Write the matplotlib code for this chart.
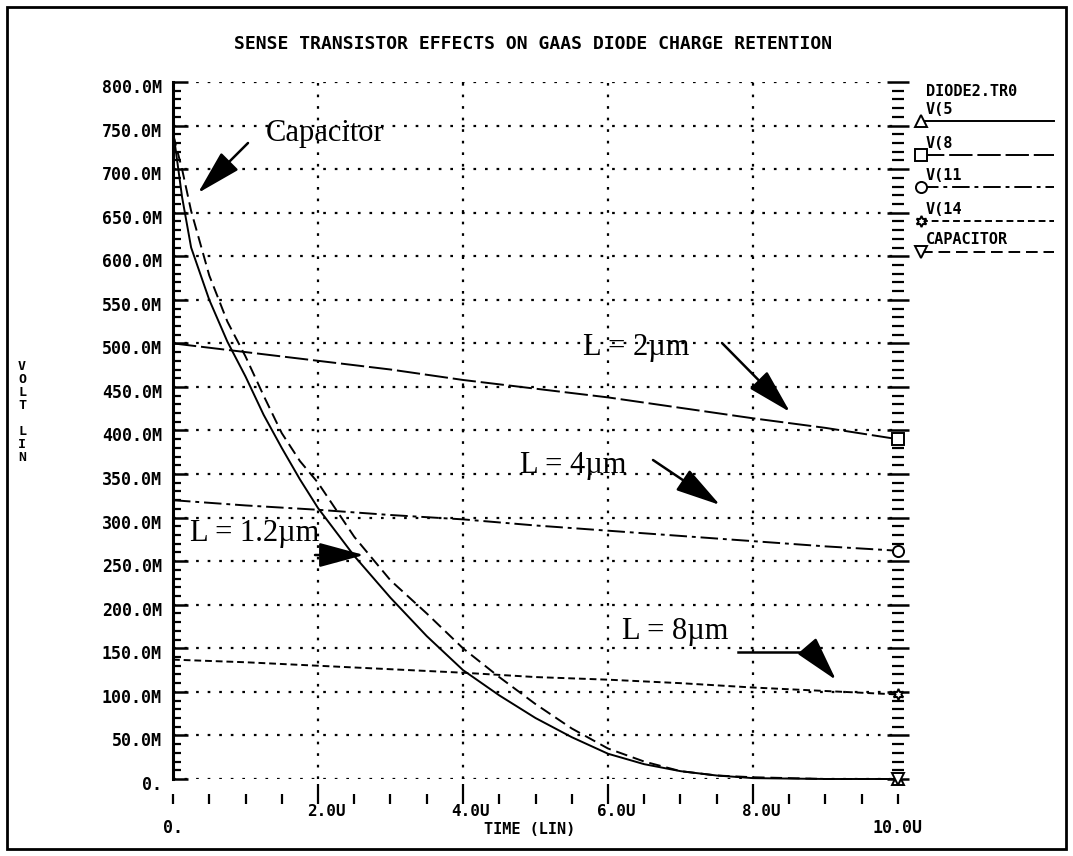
import matplotlib
matplotlib.use('Agg')
import matplotlib.pyplot as plt
from matplotlib.lines import Line2D
from matplotlib.patches import Rectangle
from matplotlib.ticker import MultipleLocator
from matplotlib.transforms import ScaledTranslation

# ---------------- data ----------------
title = "SENSE TRANSISTOR EFFECTS ON GAAS DIODE CHARGE RETENTION"
file_label = "DIODE2.TR0"
series_names = ["V(5", "V(8", "V(11", "V(14", "CAPACITOR"]

# fast decaying curves (time in us, volts in mV)
t_fast = [0, 0.125, 0.25, 0.5, 0.75, 1.0, 1.25, 1.5, 1.75, 2.0, 2.5, 3.0, 3.5,
          4.0, 4.5, 5.0, 5.5, 6.0, 6.5, 7.0, 7.5, 8.0, 9.0, 10.0]
v5 = [745, 668, 610, 550, 502, 462, 418, 380, 344, 311, 256, 208, 164,
      125, 96, 70, 48, 29, 17, 9, 4, 1, 0, 0]
v_cap = [740, 700, 652, 578, 525, 485, 440, 397, 365, 340, 278, 228, 190,
         150, 117, 86, 58, 35, 20, 9, 4, 2, 0, 0]

# slow decaying curves
t_slow = [0, 1, 2, 3, 4, 5, 6, 7, 8, 9, 10]
v8 = [500, 490, 480, 470, 458, 448, 438, 426, 414, 403, 390]
v11 = [320, 314, 309, 303, 298, 291, 285, 279, 273, 267, 262]
v14 = [137, 134, 130, 126, 122, 117, 114, 110, 105, 101, 97]

y_ticks = [0, 50, 100, 150, 200, 250, 300, 350, 400, 450, 500, 550, 600,
           650, 700, 750, 800]
y_ticklabels = ["0.", "50.0M", "100.0M", "150.0M", "200.0M", "250.0M",
                "300.0M", "350.0M", "400.0M", "450.0M", "500.0M", "550.0M",
                "600.0M", "650.0M", "700.0M", "750.0M", "800.0M"]
x_ticks = [2, 4, 6, 8]
x_ticklabels = ["2.0U", "4.0U", "6.0U", "8.0U"]
x_end_labels = [(0, "0."), (10, "10.0U")]

annotations = [
    ("Capacitor", (266, 134), (248, 143), (198, 193)),
    ("L = 1.2\u00b5m", (190, 533), (315, 555), (364, 555)),
    ("L = 2\u00b5m", (583, 348), (722, 343), (790, 412)),
    ("L = 4\u00b5m", (520, 465), (653, 460), (720, 505)),
    ("L = 8\u00b5m", (622, 632), (812, 652), (836, 680)),
]

# ---------------- layout ----------------
W, H = 1073, 856
fig = plt.figure(figsize=(W / 100, H / 100), dpi=100)
X0, X1 = 173, 898
Y0, Y1 = 779, 82
ax = fig.add_axes([X0 / W, 1 - Y0 / H, (X1 - X0) / W, (Y0 - Y1) / H])
ax.set_xlim(0, 10)
ax.set_ylim(0, 800)

MONO = dict(family="DejaVu Sans Mono", weight="bold")
SERIF = dict(family=["Liberation Serif", "DejaVu Serif"])
LBL = 12
LEG = 11

def P(x, y):
    """top-left pixel -> figure pixels"""
    return (x, H - y)

# curves
lw = 1.4
styles = [
    dict(ls="-", marker="^"),
    dict(ls=(0, (12, 2.5)), marker="s"),
    dict(ls=(0, (9, 2.5, 2, 2.5)), marker="o"),
    dict(ls=(0, (3.5, 2)), marker=(6, 1, 0)),
    dict(ls=(0, (6, 3)), marker="v"),
]
data = [(t_fast, v5), (t_slow, v8), (t_slow, v11), (t_slow, v14), (t_fast, v_cap)]
for (tx, vy), st in zip(data, styles):
    ax.plot(tx, vy, color="black", lw=lw, ls=st["ls"], marker=st["marker"],
            markevery=[len(tx) - 1], ms=8, mfc="white", mec="black", mew=1.4,
            clip_on=False, zorder=3)

# ticks / grid
ax.set_yticks(y_ticks)
ax.yaxis.set_minor_locator(MultipleLocator(10))
ax.set_xticks(x_ticks)
ax.xaxis.set_minor_locator(MultipleLocator(0.5))
ax.grid(True, which="major", color="black", ls=(0, (1.2, 4.0)), lw=1.6)

for s in ["top", "right"]:
    ax.spines[s].set_visible(False)
ax.spines["left"].set_linewidth(2.2)
ax.spines["bottom"].set_position(("outward", 11))
ax.spines["bottom"].set_visible(False)

ax.tick_params(axis="y", which="major", direction="in", length=11, width=1.8,
               pad=8, left=True, right=False)
ax.tick_params(axis="y", which="minor", direction="in", length=6, width=1.6,
               left=True, right=False)
ax.tick_params(axis="x", which="major", direction="inout", length=14,
               width=1.6, pad=0)
ax.tick_params(axis="x", which="minor", direction="out", length=7, width=1.6)

ax.set_yticklabels(y_ticklabels)
ax.set_xticklabels(x_ticklabels)

# right-hand tick column
sec = ax.secondary_yaxis("right")
sec.set_yticks(y_ticks)
sec.set_yticklabels([])
sec.yaxis.set_minor_locator(MultipleLocator(10))
sec.spines["right"].set_visible(False)
sec.tick_params(which="major", direction="inout", length=16, width=1.8)
sec.tick_params(which="minor", direction="inout", length=8, width=1.6)

# end labels on the time axis
for xv, txt in x_end_labels:
    t = ax.text(xv, 0, txt, transform=ax.get_xaxis_transform(),
                ha="center", va="center", fontsize=LBL, **MONO)
    t.set_transform(t.get_transform() +
                    ScaledTranslation(0, -(828 - 779) / 100, fig.dpi_scale_trans))

fig.text(530 / W, 1 - 830 / H, "TIME (LIN)", ha="center", va="center",
         fontsize=11, **MONO)
fig.text(22 / W, 1 - 412 / H, "V\nO\nL\nT\n\nL\nI\nN", ha="center",
         va="center", fontsize=9.5, linespacing=1.0, **MONO)
fig.text(533 / W, 1 - 44 / H, title, ha="center", va="center",
         fontsize=13, **MONO)

# legend (manual, plotter style)
fig.text(926 / W, 1 - 91 / H, file_label, ha="left", va="center",
         fontsize=LEG, **MONO)
leg_y = [121, 155, 187, 221, 252]
for name, st, ly in zip(series_names, styles, leg_y):
    fig.text(926 / W, 1 - (ly - 12) / H, name, ha="left", va="center",
             fontsize=LEG, **MONO)
    ln = Line2D([921 / W, 1054 / W], [1 - ly / H, 1 - ly / H],
                transform=fig.transFigure, color="black", lw=lw, ls=st["ls"],
                marker=st["marker"], markevery=[0], ms=8, mfc="white",
                mec="black", mew=1.4)
    fig.lines.append(ln)

# annotations with arrows
for txt, tpos, a0, a1 in annotations:
    fig.text(tpos[0] / W, 1 - tpos[1] / H, txt, ha="left", va="center",
             fontsize=22, **SERIF)
    ax.annotate("", xy=P(*a1), xycoords="figure pixels",
                xytext=P(*a0), textcoords="figure pixels",
                arrowprops=dict(arrowstyle="-|>,head_length=1.4,head_width=0.38",
                                color="black", lw=1.8, mutation_scale=20,
                                shrinkA=0, shrinkB=0))
# shaft of the bent L = 8um arrow
fig.lines.append(Line2D([738 / W, 812 / W], [1 - 652 / H, 1 - 652 / H],
                        transform=fig.transFigure, color="black", lw=1.8))

# outer frame
fig.patches.append(Rectangle((7 / W, 7 / H), (1066 - 7) / W, (849 - 7) / H,
                             transform=fig.transFigure, fill=False,
                             ec="black", lw=2))

# final tick label styling (done last so it sticks)
for lab in ax.get_yticklabels():
    lab.set_fontfamily(MONO["family"])
    lab.set_fontweight("bold")
    lab.set_fontsize(LBL)
    lab.set_transform(lab.get_transform() +
                      ScaledTranslation(0, -4 / 100, fig.dpi_scale_trans))
for lab in ax.get_xticklabels():
    lab.set_fontfamily(MONO["family"])
    lab.set_fontweight("bold")
    lab.set_fontsize(11.5)
    lab.set_transform(lab.get_transform() +
                      ScaledTranslation(8 / 100, 0, fig.dpi_scale_trans))

fig.savefig("out.png", dpi=100)
